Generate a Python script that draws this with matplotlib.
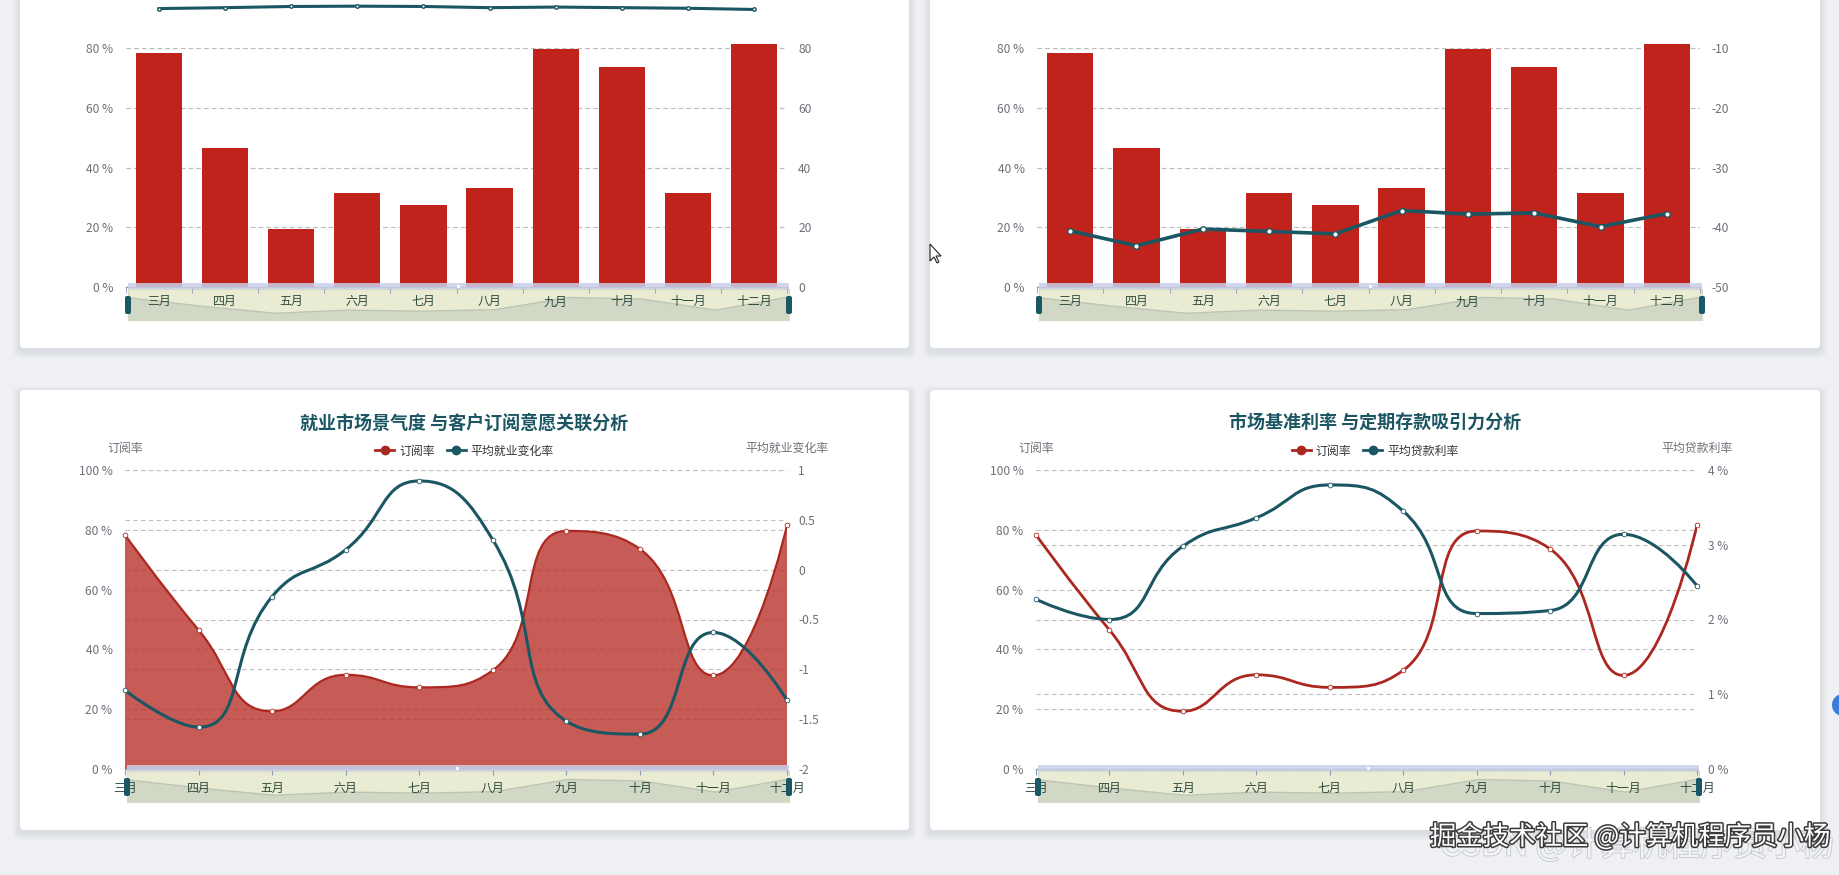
import numpy as np
import matplotlib
matplotlib.use('Agg')
import matplotlib.pyplot as plt
from matplotlib.path import Path
from matplotlib.patches import PathPatch, FancyBboxPatch, Rectangle, Circle, Polygon
from matplotlib.lines import Line2D
from matplotlib.ticker import FuncFormatter
from matplotlib.transforms import blended_transform_factory
import matplotlib.patheffects as pe

plt.rcParams['font.family'] = ['Noto Sans CJK SC', 'DejaVu Sans']
plt.rcParams['axes.unicode_minus'] = False

W, H = 1839, 875

# ---- data ----
months = ['三月', '四月', '五月', '六月', '七月', '八月', '九月', '十月', '十一月', '十二月']
subscribe_rate = [78.3, 46.5, 19.3, 31.5, 27.3, 33.0, 79.6, 73.6, 31.3, 81.5]
top_left_line = [93.2, 93.5, 93.9, 94.0, 93.9, 93.5, 93.7, 93.5, 93.3, 92.9]
top_right_line = [-40.6, -43.1, -40.3, -40.7, -41.1, -37.2, -37.8, -37.6, -39.9, -37.7]
employment_change = [-1.21, -1.58, -0.27, 0.20, 0.89, 0.30, -1.52, -1.65, -0.63, -1.31]
loan_rate = [2.27, 2.00, 2.98, 3.36, 3.80, 3.45, 2.08, 2.12, 3.14, 2.45]

title_left = '就业市场景气度 与客户订阅意愿关联分析'
title_right = '市场基准利率 与定期存款吸引力分析'

RED = '#c0221c'
RED_LINE = '#ab2820'
TEAL = '#1b5663'
GRID = '#bfbfbf'
TICK = '#6e7079'
XLAB = '#2d4a3c'
AXLINE = '#8c9bbd'

fig = plt.figure(figsize=(W / 100, H / 100), dpi=100)


def px_axes(x0, y0, x1, y1, z=1):
    return fig.add_axes([x0 / W, 1 - y1 / H, (x1 - x0) / W, (y1 - y0) / H], zorder=z)


# background + cards
bg = px_axes(0, 0, W, H, z=0)
bg.set_xlim(0, W)
bg.set_ylim(H, 0)
bg.axis('off')
bg.add_patch(Rectangle((0, 0), W, H, color='#eef0f3'))
cards = [(20, -10, 909, 348), (930, -10, 1820, 348), (20, 390, 909, 830), (930, 390, 1820, 830)]
for x0, y0, x1, y1 in cards:
    for k in range(7, 0, -1):
        bg.add_patch(FancyBboxPatch((x0 - k, y0 - k + 3), x1 - x0 + 2 * k, y1 - y0 + 2 * k,
                                    boxstyle='round,pad=0,rounding_size=6',
                                    fc='#8a9099', ec='none', alpha=0.025))
    bg.add_patch(FancyBboxPatch((x0, y0), x1 - x0, y1 - y0, boxstyle='round,pad=0,rounding_size=4',
                                fc='white', ec='none'))

# front layer (slider handles, watermark ...)
fr = px_axes(0, 0, W, H, z=5)
fr.set_xlim(0, W)
fr.set_ylim(H, 0)
fr.axis('off')
fr.patch.set_alpha(0)


def smooth_path(ax, xs, ys, smooth=0.5, close_to=None):
    # echarts 5 style bezier smoothing (control points clamped), in pixel space
    pts = ax.transData.transform(np.column_stack([xs, ys]))
    n = len(pts)
    verts = [pts[0]]
    codes = [Path.MOVETO]
    cp = pts[0].copy()
    for i in range(1, n):
        x, y = pts[i]
        if i == n - 1:
            c0 = np.array([x, y])
            c1 = np.array([x, y])
        else:
            px, py = pts[i - 1]
            nx, ny = pts[i + 1]
            vx, vy = nx - px, ny - py
            lp = np.hypot(x - px, y - py)
            ln = np.hypot(nx - x, ny - y)
            r = ln / (ln + lp)
            ncx = x + vx * smooth * r
            ncy = y + vy * smooth * r
            ncx = min(ncx, max(nx, x)); ncy = min(ncy, max(ny, y))
            ncx = max(ncx, min(nx, x)); ncy = max(ncy, min(ny, y))
            vx, vy = ncx - x, ncy - y
            pcx = x - vx * lp / ln
            pcy = y - vy * lp / ln
            pcx = min(pcx, max(px, x)); pcy = min(pcy, max(py, y))
            pcx = max(pcx, min(px, x)); pcy = max(pcy, min(py, y))
            vx, vy = x - pcx, y - pcy
            ncx = x + vx * ln / lp
            ncy = y + vy * ln / lp
            c0 = np.array([pcx, pcy])
            c1 = np.array([ncx, ncy])
        verts += [cp, c0, pts[i]]
        codes += [Path.CURVE4] * 3
        cp = c1
    verts = list(ax.transData.inverted().transform(np.array(verts)))
    if close_to is not None:
        verts += [(xs[-1], close_to), (xs[0], close_to), (xs[0], close_to)]
        codes += [Path.LINETO, Path.LINETO, Path.CLOSEPOLY]
    return Path(np.array(verts), codes)


def style_axes(ax, ax2, lticks, rticks, rfmt):
    ax.set_facecolor('none')
    for s in ['top', 'left', 'right']:
        ax.spines[s].set_visible(False)
    for s in ax2.spines.values():
        s.set_visible(False)
    ax.spines['bottom'].set_color(AXLINE)
    ax.spines['bottom'].set_linewidth(1)
    ax.set_yticks(lticks)
    ax.yaxis.set_major_formatter(FuncFormatter(lambda v, p: f'{v:.0f} %'))
    ax.tick_params(axis='y', length=0, pad=9, labelsize=8.6, labelcolor=TICK)
    ax2.set_yticks(rticks)
    ax2.yaxis.set_major_formatter(FuncFormatter(rfmt))
    ax2.tick_params(axis='y', length=0, pad=8, labelsize=8.6, labelcolor=TICK)
    ax.yaxis.grid(True, ls=(0, (4, 3)), color=GRID, lw=0.8)
    ax.set_axisbelow(True)
    tr = blended_transform_factory(ax.transAxes, ax2.transData)
    for v in rticks:
        ax.plot([0, 1], [v, v], transform=tr, ls=(0, (4, 3)), color=GRID, lw=0.8, zorder=0.5)


def slider(x0, x1, y_axis):
    top = y_axis + 2
    bot = y_axis + 33
    sax = px_axes(x0 + 2, top, x1 + 2, bot, z=1)
    vmin, vmax = min(subscribe_rate), max(subscribe_rate)
    scale = 16.3 / (vmax - vmin)
    lo = vmin - 6.7 / scale
    sax.set_ylim(lo, lo + 31 / scale)
    sax.set_xlim(0, len(months) - 1)
    sax.set_facecolor('#e9ebd3')
    xs = np.arange(len(months))
    sax.fill_between(xs, subscribe_rate, lo, color='#d2d8c6', lw=0)
    sax.plot(xs, subscribe_rate, color='#bcc5b3', lw=1)
    sax.set_xticks([])
    sax.set_yticks([])
    for s in sax.spines.values():
        s.set_color('#d6dac8')
        s.set_linewidth(0.8)
    fr.add_patch(Rectangle((x0 + 2, y_axis - 4), x1 - x0, 6, fc='#c9cfe8', ec='none', alpha=0.85))
    cx = (x0 + x1) / 2 + 2
    fr.add_patch(Rectangle((cx - 1.5, y_axis - 2.5), 3, 3, fc='white', ec='none', alpha=0.9))
    for hx in (x0 + 2, x1 + 2):
        fr.add_patch(FancyBboxPatch((hx - 3, y_axis + 9), 6, 18, boxstyle='round,pad=0,rounding_size=2',
                                    fc='#1b5866', ec='none'))


x = np.arange(len(months))


def top_panel(x0, x1, line_vals, rlim, rticks, rfmt, lw, ms):
    ax = px_axes(x0, 48, x1, 287, z=2)
    ax2 = ax.twinx()
    ax.set_xlim(-0.5, len(months) - 0.5)
    ax.set_ylim(0, 80)
    ax2.set_ylim(*rlim)
    style_axes(ax, ax2, [0, 20, 40, 60, 80], rticks, rfmt)
    ax.bar(x, subscribe_rate, width=0.7, color=RED, zorder=2, clip_on=False)
    ax.set_xticks(x)
    ax.set_xticklabels(months)
    ax.set_xticks(np.arange(-0.5, len(months), 1), minor=True)
    ax.tick_params(axis='x', which='major', length=0, pad=6, labelsize=8.6, labelcolor=XLAB)
    ax.tick_params(axis='x', which='minor', length=4, color=AXLINE, direction='out')
    ax2.plot(x, line_vals, color=TEAL, lw=lw, marker='o', ms=ms, mfc='white', mec=TEAL, mew=1,
             clip_on=False, zorder=3)
    slider(x0, x1, 287)


def bottom_panel(x0, x1, card, title, legend_name, series2, rlim, rticks, rfmt, area):
    ax = px_axes(x0, 470, x1, 769, z=2)
    ax2 = ax.twinx()
    ax.set_xlim(0, len(months) - 1)
    ax.set_ylim(0, 100)
    ax2.set_ylim(*rlim)
    style_axes(ax, ax2, [0, 20, 40, 60, 80, 100], rticks, rfmt)
    ax.set_xticks(x)
    ax.set_xticklabels(months)
    ax.tick_params(axis='x', length=4, color=AXLINE, direction='out', pad=5, labelsize=8.6, labelcolor=XLAB)

    if area:
        ax.add_patch(PathPatch(smooth_path(ax, x, subscribe_rate, close_to=0), fc='#b8332a', ec='none',
                               alpha=0.8, zorder=2))
        ax.add_patch(PathPatch(smooth_path(ax, x, subscribe_rate), fc='none', ec=RED_LINE, lw=1.6, zorder=3))
    else:
        ax.add_patch(PathPatch(smooth_path(ax, x, subscribe_rate), fc='none', ec=RED_LINE, lw=2, zorder=3))
    ax.plot(x, subscribe_rate, ls='none', marker='o', ms=3.4, mfc='white', mec=RED_LINE, mew=0.6,
            zorder=4, clip_on=False)

    ax2.add_patch(PathPatch(smooth_path(ax2, x, series2), fc='none', ec=TEAL, lw=2.2, zorder=3, clip_on=False))
    ax2.plot(x, series2, ls='none', marker='o', ms=3.4, mfc='white', mec=TEAL, mew=0.6, zorder=4,
             clip_on=False)

    cx = (card[0] + card[2]) / 2
    fig.text(cx / W, 1 - 423 / H, title, ha='center', va='center', fontsize=13,
             fontweight='bold', color='#1c5663')
    handles = [Line2D([], [], color=RED_LINE, lw=2, marker='o', ms=6),
               Line2D([], [], color=TEAL, lw=2, marker='o', ms=6)]
    fig.legend(handles, ['订阅率', legend_name], loc='center', bbox_to_anchor=(cx / W, 1 - 451 / H),
               ncol=2, frameon=False, fontsize=8.6, handlelength=1.6, handletextpad=0.4,
               columnspacing=1.0, labelcolor='#333333')
    fig.text(x0 / W, 1 - 448 / H, '订阅率', ha='center', va='center', fontsize=8.6, color=TICK)
    fig.text(x1 / W, 1 - 448 / H, legend_name, ha='center', va='center', fontsize=8.6, color=TICK)
    slider(x0, x1, 769)


top_panel(126, 787, top_left_line, (0, 80), [0, 20, 40, 60, 80], lambda v, p: f'{v:.0f}', 2.2, 2.5)
top_panel(1037, 1700, top_right_line, (-50, -10), [-50, -40, -30, -20, -10], lambda v, p: f'{v:.0f}', 2.6, 4)
bottom_panel(125, 787, cards[2], title_left, '平均就业变化率', employment_change, (-2, 1),
             [-2, -1.5, -1, -0.5, 0, 0.5, 1], lambda v, p: f'{v:g}', True)
bottom_panel(1036, 1697, cards[3], title_right, '平均贷款利率', loan_rate, (0, 4),
             [0, 1, 2, 3, 4], lambda v, p: f'{v:g} %', False)

# screenshot leftovers: watermark, cursor, floating button
fr.text(1834, 846, 'CSDN @计算机程序员小杨', fontsize=24, color='#f3f4f6', va='center', ha='right',
        path_effects=[pe.withStroke(linewidth=1.2, foreground='#c4c7cc')])
fr.text(1430, 837, '掘金技术社区 @计算机程序员小杨', fontsize=19, color='white', va='center', ha='left',
        path_effects=[pe.withStroke(linewidth=2.2, foreground='#3a3a3a')])
fr.add_patch(Circle((1843, 705), 11, fc='#3b7ddd', ec='none', clip_on=False))
cur = np.array([(0, 0), (0, 17), (4, 13), (7, 19), (9, 18), (6, 12), (11, 12)]) + (930, 244)
fr.add_patch(Polygon(cur, closed=True, fc='white', ec='#222222', lw=0.8))

fig.savefig('out.png', dpi=100)
